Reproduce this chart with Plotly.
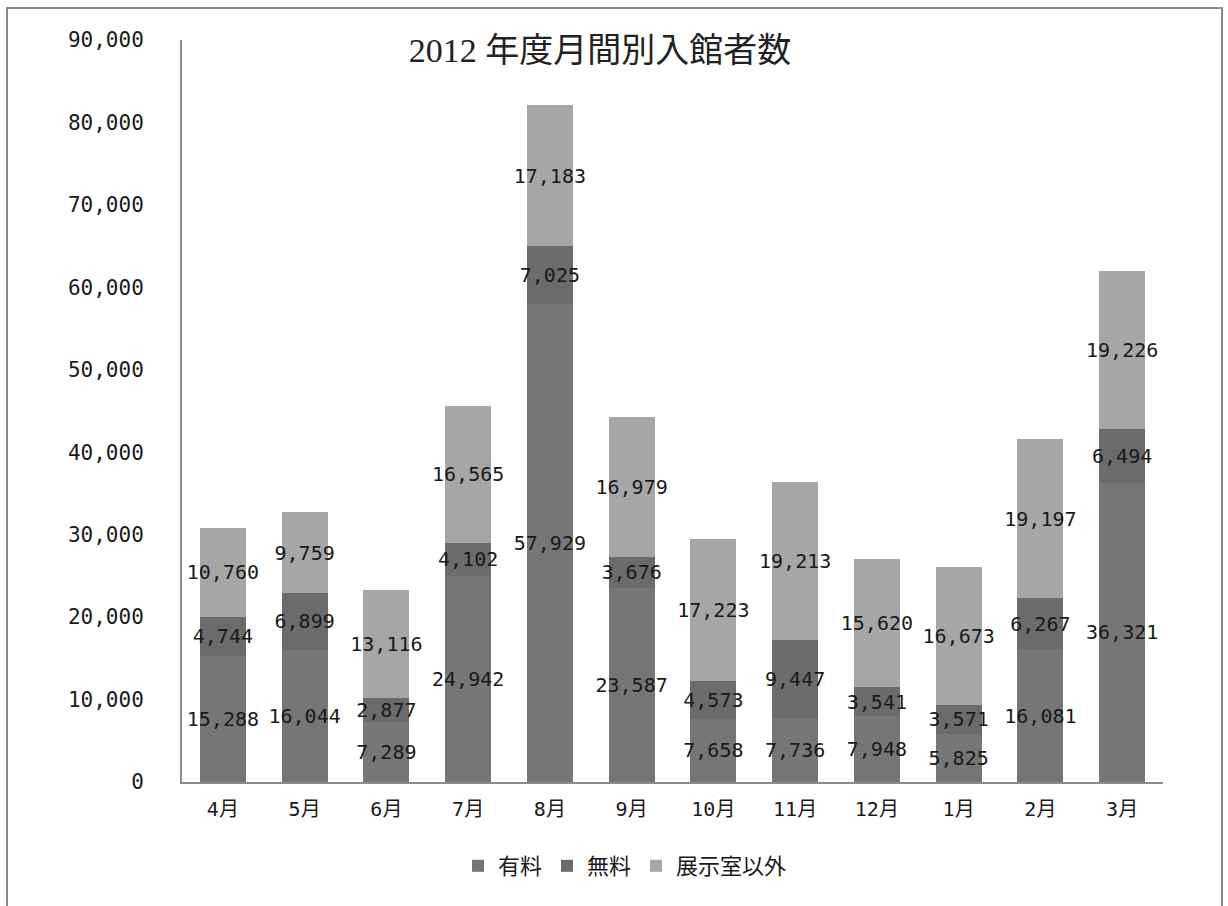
import plotly.graph_objects as go

months = ["4月", "5月", "6月", "7月", "8月", "9月", "10月", "11月", "12月", "1月", "2月", "3月"]
paid = [15288, 16044, 7289, 24942, 57929, 23587, 7658, 7736, 7948, 5825, 16081, 36321]
free = [4744, 6899, 2877, 4102, 7025, 3676, 4573, 9447, 3541, 3571, 6267, 6494]
other = [10760, 9759, 13116, 16565, 17183, 16979, 17223, 19213, 15620, 16673, 19197, 19226]
series_names = ["有料", "無料", "展示室以外"]
colors = ["#767676", "#6b6b6b", "#a6a6a6"]
y_ticks = list(range(0, 90001, 10000))

W, H = 1228, 906
L, R, T, B = 182, 65, 40, 124
pw, ph = W - L - R, H - T - B

num_font = dict(family="DejaVu Sans Mono, Noto Sans CJK JP", size=20, color="#1a1a1a")

fig = go.Figure()
for name, vals, col in zip(series_names, [paid, free, other], colors):
    fig.add_trace(go.Bar(
        x=months, y=vals, name=name,
        marker=dict(color=col, line=dict(width=0)),
        text=[f"{v:,}" for v in vals],
        textposition="inside", insidetextanchor="middle",
        textangle=0, constraintext="none",
        insidetextfont=num_font, cliponaxis=False,
    ))

fig.update_layout(
    width=W, height=H,
    barmode="stack", bargap=0.44,
    margin=dict(l=L, r=R, t=T, b=B),
    paper_bgcolor="white", plot_bgcolor="white",
    title=dict(text="2012 年度月間別入館者数", xref="container", yref="container",
               x=600 / W, y=1 - 50 / H, xanchor="center", yanchor="middle",
               font=dict(family="Liberation Serif, Noto Sans CJK JP", size=34, color="#222222")),
    xaxis=dict(showline=True, linecolor="#8c8c8c", linewidth=2, showgrid=False,
               ticks="", tickfont=dict(family="DejaVu Sans Mono, Noto Sans CJK JP", size=20, color="#1a1a1a"),
               ticklabelstandoff=8),
    yaxis=dict(range=[0, 90000], tickvals=y_ticks, tickformat=",d",
               showline=True, linecolor="#8c8c8c", linewidth=2, showgrid=False,
               zeroline=False, ticks="",
               tickfont=dict(family="DejaVu Sans Mono, Noto Sans CJK JP", size=21, color="#1a1a1a"),
               ticklabelstandoff=32),
    legend=dict(orientation="h", x=(625 - L) / pw, xanchor="center",
                y=(782 - 866) / ph, yanchor="middle", traceorder="normal",
                font=dict(family="Noto Sans CJK JP", size=22, color="#1a1a1a"),
                itemwidth=30),
    showlegend=True,
)

fig.add_shape(type="rect", xref="paper", yref="paper",
              x0=(7 - L) / pw, x1=(1222 - L) / pw,
              y0=(782 - 930) / ph, y1=(782 - 8) / ph,
              line=dict(color="#8a8a8a", width=2), fillcolor="rgba(0,0,0,0)", layer="above")

fig.write_html("out.html")
